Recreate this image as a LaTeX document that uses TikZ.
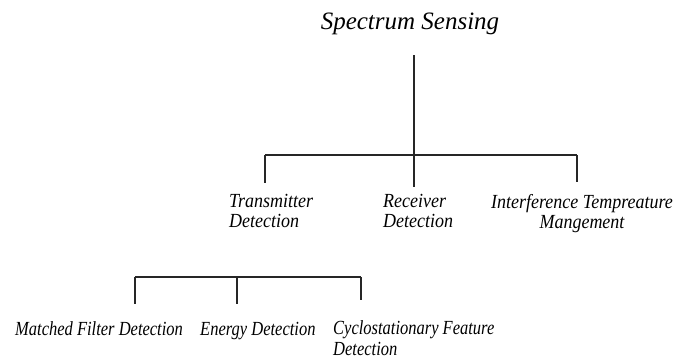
\documentclass[tikz,border=0pt]{standalone}
\usepackage{fontspec}
\setmainfont{Liberation Serif}
\newfontfamily\condA[FakeStretch=0.9]{Liberation Serif}
\newfontfamily\condB[FakeStretch=0.825]{Liberation Serif}
\begin{document}
\begin{tikzpicture}[x=1pt,y=-1pt,
  lblA/.style={inner sep=0pt, font=\condA\itshape\fontsize{20}{20}\selectfont},
  lblB/.style={inner sep=0pt, font=\condB\itshape\fontsize{20}{21}\selectfont},
  conn/.style={line width=1.3pt, black!85}]
\useasboundingbox (0,0) rectangle (686,360);
\node[inner sep=0pt, font=\itshape\fontsize{25}{28}\selectfont, anchor=base] (root) at (410,29) {Spectrum Sensing};
% level 1 labels
\node[lblA, align=left, anchor=north west] (tx) at (229,194) {Transmitter\\Detection};
\node[lblA, align=left, anchor=north west] (rx) at (383,194) {Receiver\\Detection};
\node[lblA, align=center, anchor=north] (it) at (582,194) {Interference Tempreature\\Mangement};
% level 2 labels
\node[lblB, anchor=base west] (mf) at (15,335) {Matched Filter Detection};
\node[lblB, anchor=base west] (en) at (200,335) {Energy Detection};
\node[lblB, align=left, anchor=north west] (cy) at (333,320) {Cyclostationary Feature\\Detection};
% connectors
\coordinate (r0) at (414,55);
\coordinate (r1) at (414,155);
\coordinate (b1) at (265,155);
\coordinate (b3) at (577,155);
\coordinate (t1) at (265,183);
\coordinate (t2) at (414,187);
\coordinate (t3) at (577,182);
\draw[conn] (r0) -- (r1);
\draw[conn] (b1) -- (b3);
\draw[conn] (b1) -- (t1);
\draw[conn] (r1) -- (t2);
\draw[conn] (b3) -- (t3);
\coordinate (c1) at (135,277);
\coordinate (c2) at (237,277);
\coordinate (c3) at (361,277);
\coordinate (d1) at (135,304);
\coordinate (d2) at (237,304);
\coordinate (d3) at (361,300);
\draw[conn] (c1) -- (c3);
\draw[conn] (c1) -- (d1);
\draw[conn] (c2) -- (d2);
\draw[conn] (c3) -- (d3);
\end{tikzpicture}
\end{document}
